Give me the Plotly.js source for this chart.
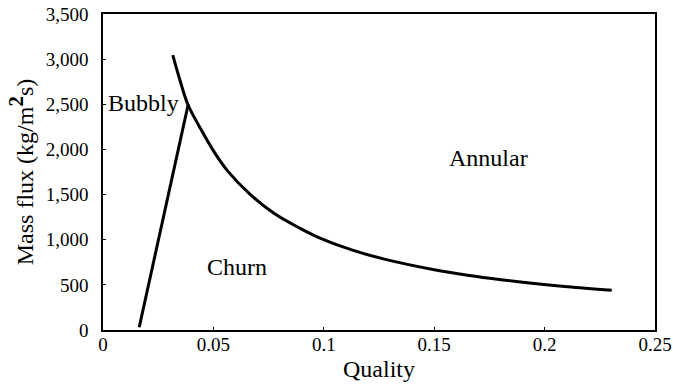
<!DOCTYPE html>
<html>
<head>
<meta charset="utf-8">
<script src="https://cdn.plot.ly/plotly-3.0.1.min.js"></script>
<style>
  html, body { margin: 0; padding: 0; background: #fff; }
  #chart { width: 673px; height: 389px; }
</style>
</head>
<body>
<div id="chart"></div>
<script>
// Bubbly/churn boundary: a straight line from near zero flux up to the junction
const bubblyQuality = [0.0164, 0.0386];
const bubblyFlux = [30, 2500];

// Churn/annular boundary: falling curve of mass flux against quality
const annularQuality = [0.0316, 0.0350, 0.0384, 0.0444, 0.0504, 0.0565, 0.0670, 0.0776,
                        0.0897, 0.0972, 0.1123, 0.1274, 0.1500, 0.1652, 0.1803,
                        0.1953, 0.2104, 0.2304];
const annularFlux = [3045, 2755, 2500, 2220, 1970, 1760, 1495, 1290,
                     1120, 1030, 890, 785, 668, 607, 557,
                     515, 479, 440];

// Flow-regime region labels
const regionNames = ['Bubbly', 'Churn', 'Annular'];
const regionQuality = [0.0185, 0.0606, 0.1748];
const regionFlux = [2510, 700, 1900];

const serif = 'Liberation Serif';

const traces = [
  {
    x: bubblyQuality, y: bubblyFlux, mode: 'lines', type: 'scatter',
    line: { color: '#000', width: 3 }, hoverinfo: 'skip'
  },
  {
    x: annularQuality, y: annularFlux, mode: 'lines', type: 'scatter',
    line: { color: '#000', width: 3, shape: 'spline', smoothing: 1 }, hoverinfo: 'skip'
  }
];

const annotations = regionNames.map((name, i) => ({
  x: regionQuality[i], y: regionFlux[i], xref: 'x', yref: 'y',
  text: name, showarrow: false, xanchor: 'center', yanchor: 'middle',
  font: { family: serif, size: 24, color: '#000' }
}));

const layout = {
  width: 673, height: 389,
  margin: { l: 103, r: 18, t: 14, b: 59 },
  paper_bgcolor: '#fff', plot_bgcolor: '#fff',
  showlegend: false,
  font: { family: serif, color: '#000', size: 19 },
  xaxis: {
    range: [0, 0.25], tickvals: [0, 0.05, 0.1, 0.15, 0.2, 0.25],
    ticktext: ['0', '0.05', '0.1', '0.15', '0.2', '0.25'],
    showgrid: false, zeroline: false,
    showline: true, linecolor: '#000', linewidth: 1.6, mirror: true,
    ticks: 'inside', ticklen: 3, tickcolor: '#000',
    ticklabelstandoff: -3,
    tickfont: { family: serif, size: 19, color: '#000' },
    title: { text: 'Quality', font: { family: serif, size: 24, color: '#000' }, standoff: 6 }
  },
  yaxis: {
    range: [0, 3500], tickvals: [0, 500, 1000, 1500, 2000, 2500, 3000, 3500],
    tickformat: ',d',
    showgrid: false, zeroline: false,
    showline: true, linecolor: '#000', linewidth: 1.6, mirror: true,
    ticks: 'inside', ticklen: 3, tickcolor: '#000',
    ticklabelstandoff: 9,
    tickfont: { family: serif, size: 19, color: '#000' },
    title: {
      text: 'Mass flux (kg/m<sup><b><span style="font-size:21px">2</span></b></sup>s)',
      font: { family: serif, size: 24, color: '#000' }, standoff: 5
    }
  },
  annotations: annotations
};

Plotly.newPlot('chart', traces, layout, { displayModeBar: false, staticPlot: true });
</script>
</body>
</html>
